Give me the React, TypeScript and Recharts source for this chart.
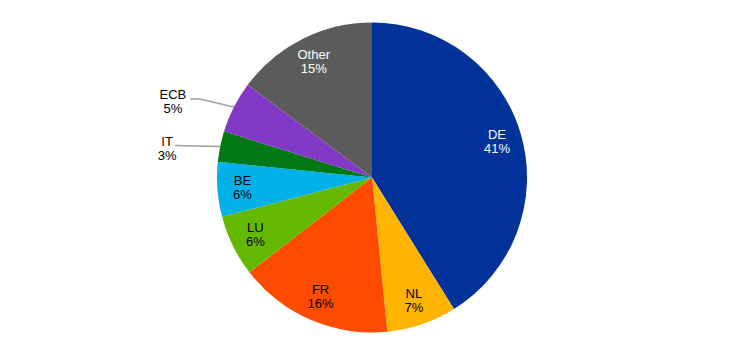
import React from "react";
import { PieChart, Pie, Cell } from "recharts";

const NAMES = ["DE", "NL", "FR", "LU", "BE", "IT", "ECB", "Other"];
const SHARES = [41.15, 7.3, 16.1, 6.4, 5.7, 3.2, 5.4, 14.8];
const SHARE_LABELS = ["41%", "7%", "16%", "6%", "6%", "3%", "5%", "15%"];
const COLORS = ["#003299", "#FFB400", "#FF4B00", "#65B800", "#00B1EA", "#007816", "#8139C6", "#5C5C5C"];
const TEXT_COLORS = ["#fff", "#000", "#000", "#000", "#000", "#000", "#000", "#fff"];

const data = NAMES.map((name, i) => ({ name, value: SHARES[i], pct: SHARE_LABELS[i] }));

const RADIAN = Math.PI / 180;

// slices whose labels sit outside with a leader line: [elbow dx, elbow dy, end dx, text dx, text dy]
const OUTSIDE: Record<string, number[]> = {
  ECB: [-34, -8, -44, -61, -6],
  IT: [-45, -1, -45, -53, 2],
};

const renderLabel = (props: any) => {
  const { cx, cy, midAngle, outerRadius, index } = props;
  const name = NAMES[index];
  const font = { fontFamily: "'Liberation Sans', Arial, sans-serif", fontSize: 13 };
  const cos = Math.cos(-midAngle * RADIAN);
  const sin = Math.sin(-midAngle * RADIAN);
  const o = OUTSIDE[name];
  if (o) {
    const ex = cx + outerRadius * cos;
    const ey = cy + outerRadius * sin;
    const bx = ex + o[0];
    const by = ey + o[1];
    const tx = ex + o[3];
    const ty = ey + o[4];
    return (
      <g>
        <polyline
          points={`${ex},${ey} ${bx},${by} ${ex + o[2]},${by}`}
          fill="none"
          stroke="#A0A0A0"
          strokeWidth={1.5}
        />
        <text x={tx} y={ty - 7} textAnchor="middle" dominantBaseline="central" fill="#000" style={font}>
          {name}
        </text>
        <text x={tx} y={ty + 7} textAnchor="middle" dominantBaseline="central" fill="#000" style={font}>
          {SHARE_LABELS[index]}
        </text>
      </g>
    );
  }
  const r = 130;
  const x = cx + r * cos;
  const y = cy + r * sin;
  return (
    <g>
      <text x={x} y={y - 7} textAnchor="middle" dominantBaseline="central" fill={TEXT_COLORS[index]} style={font}>
        {name}
      </text>
      <text x={x} y={y + 7} textAnchor="middle" dominantBaseline="central" fill={TEXT_COLORS[index]} style={font}>
        {SHARE_LABELS[index]}
      </text>
    </g>
  );
};

const App = () => {
  return (
    <div style={{ width: 745, height: 355, background: "#fff" }}>
      <style>{"body{margin:0}"}</style>
      <PieChart width={745} height={355} margin={{ top: 0, right: 0, bottom: 0, left: 0 }}>
        <Pie
          data={data}
          dataKey="value"
          nameKey="name"
          cx={372}
          cy={177.5}
          outerRadius={155}
          startAngle={90}
          endAngle={-270}
          stroke="none"
          label={renderLabel}
          labelLine={false}
          isAnimationActive={false}
        >
          {data.map((d, i) => (
            <Cell key={d.name} fill={COLORS[i]} />
          ))}
        </Pie>
      </PieChart>
    </div>
  );
};

export default App;
